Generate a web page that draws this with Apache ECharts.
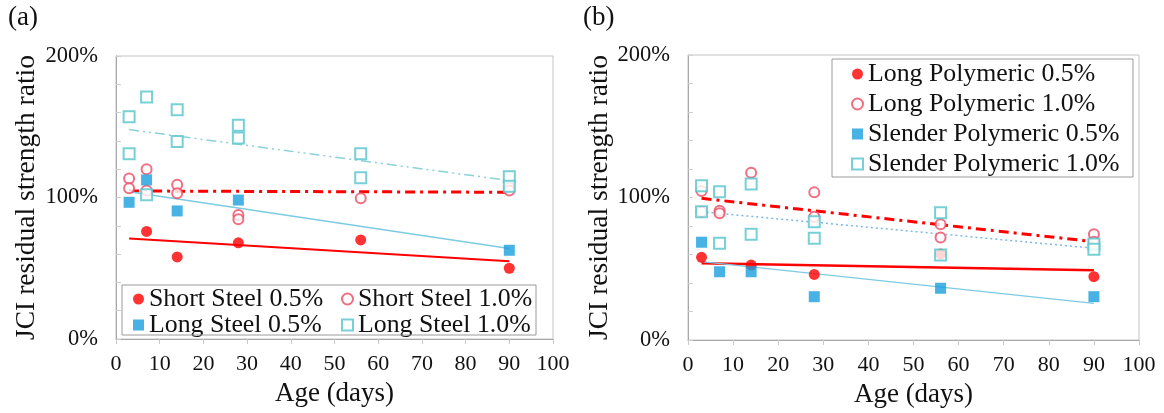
<!DOCTYPE html>
<html>
<head>
<meta charset="utf-8">
<script src="https://cdn.jsdelivr.net/npm/echarts@6/dist/echarts.min.js"></script>
<style>
html,body{margin:0;padding:0;background:#fff;}
#chart{width:1164px;height:413px;}
</style>
</head>
<body>
<div id="chart"></div>
<script>
// ---------- DATA ----------
const xTicks = [0,10,20,30,40,50,60,70,80,90,100];
const yTicks = [0,100,200];
const trendDays = [3, 90];

// Panel (a)
const shortSteel05Days = [7,14,28,56,90];
const shortSteel05 = [76,58,68,70,50];
const shortSteel10Days = [3,3,7,7,14,14,28,28,56,90,90];
const shortSteel10 = [113.5,106.5,120,105,109,103,87.6,84.6,99.4,107,105];
const longSteel05Days = [3,7,14,28,90];
const longSteel05 = [96.6,112.4,90.5,98.2,62.7];
const longSteel10Days = [3,3,7,7,14,14,28,28,56,56,90,90];
const longSteel10 = [157,131,171,102,162,139.5,151,142,131,114,114.7,108];
const trendShortSteel05 = [71,55];
const trendShortSteel10 = [104.6,103.7];
const trendLongSteel05 = [104,64];
const trendLongSteel10 = [148,112];

// Panel (b)
const longPoly05Days = [3,14,28,56,90];
const longPoly05 = [58,52.6,46,60.4,44.4];
const longPoly10Days = [3,3,7,7,14,28,28,56,56,90,90];
const longPoly10 = [104.6,90,90.7,89,117.4,103.6,86.5,81.2,72,74.2,69];
const slenderPoly05Days = [3,7,14,28,56,90];
const slenderPoly05 = [68.6,47.9,47.9,30.4,36.3,30.4];
const slenderPoly10Days = [3,3,7,7,14,14,28,28,56,56,90,90];
const slenderPoly10 = [108.3,90,104,67.9,109.5,74.2,83,71.4,89.3,59.6,67.4,63.6];
const trendLongPoly05 = [53.8,49];
const trendLongPoly10 = [99.4,69];
const trendSlenderPoly05 = [55,25.7];
const trendSlenderPoly10 = [90,64.4];

const namesA = ['Short Steel 0.5%','Short Steel 1.0%','Long Steel 0.5%','Long Steel 1.0%'];
const namesB = ['Long Polymeric 0.5%','Long Polymeric 1.0%','Slender Polymeric 0.5%','Slender Polymeric 1.0%'];

// ---------- STYLE ----------
const FONT = '"Liberation Serif","Times New Roman",serif';
const RED = '#FF0000', PINK = '#EE4A62', BLUE = '#1A9FDF', CYAN = '#55C4CB';

function pts(xs, ys){ return xs.map((x,i)=>[x, ys[i]]); }

function xAxisDef(gi){
  return {
    gridIndex: gi, type:'value', min:0, max:100, interval:10,
    name:'Age (days)', nameLocation:'middle', nameGap:41,
    nameTextStyle:{fontFamily:FONT, fontSize:27, color:'#111'},
    axisLine:{lineStyle:{color:'#A8A8A8'}},
    axisTick:{show:true, length:5, lineStyle:{color:'#C8C8C8'}},
    axisLabel:{fontFamily:FONT, fontSize:22, color:'#111', margin:14,
      formatter:(v)=> xTicks.includes(v) ? String(v) : ''},
    splitLine:{show:false}
  };
}
function yAxisDef(gi, gap){
  return {
    gridIndex: gi, type:'value', min:0, max:200, interval:100,
    name:'JCI residual strength ratio', nameLocation:'middle', nameGap:gap, nameRotate:90,
    nameTextStyle:{fontFamily:FONT, fontSize:27.5, color:'#111'},
    axisLine:{show:true, lineStyle:{color:'#A8A8A8'}},
    axisTick:{show:true, inside:true, length:5, lineStyle:{color:'#D0D0D0'}},
    minorTick:{show:true, splitNumber:5, length:5, lineStyle:{color:'#D0D0D0'}},
    axisLabel:{fontFamily:FONT, fontSize:22.5, color:'#111', margin:18,
      formatter:(v)=> yTicks.includes(v) ? v + '%' : ''},
    splitLine:{show:false}
  };
}
function scatter(name, gi, xs, ys, symbol, color, size){
  const empty = symbol.startsWith('empty');
  return {
    name, type:'scatter', xAxisIndex:gi, yAxisIndex:gi,
    data: pts(xs, ys), symbol, symbolSize:size, z:5,
    itemStyle: empty ? {color:color, borderColor:color, borderWidth:1.5} : {color:color},
    emphasis:{disabled:true}
  };
}
function trend(gi, vals, color, width, type){
  return {
    type:'line', xAxisIndex:gi, yAxisIndex:gi, data: pts(trendDays, vals),
    symbol:'none', z:3, silent:true,
    lineStyle:{color, width, type}
  };
}

const legendText = {fontFamily:FONT, fontSize:25.8, color:'#111', lineHeight:25};

const option = {
  animation:false,
  backgroundColor:'#fff',
  grid:[
    {left:116, top:56, width:437, height:283, show:true, borderColor:'#C4C4C4', borderWidth:1},
    {left:688, top:55, width:451, height:285, show:true, borderColor:'#C4C4C4', borderWidth:1}
  ],
  xAxis:[xAxisDef(0), xAxisDef(1)],
  yAxis:[yAxisDef(0, 75), yAxisDef(1, 71)],
  legend:[
    {left:133, top:286, orient:'vertical', padding:0, itemGap:0, itemWidth:11, itemHeight:11,
      data:[namesA[0], namesA[2]], textStyle:legendText, selectedMode:false},
    {left:341, top:286, orient:'vertical', padding:0, itemGap:0, itemWidth:11, itemHeight:11,
      data:[namesA[1], namesA[3]], textStyle:legendText, selectedMode:false},
    {left:851, top:61, orient:'vertical', padding:0, itemGap:4, itemWidth:11, itemHeight:11,
      data:namesB, textStyle:legendText, selectedMode:false}
  ],
  graphic:[
    {type:'rect', shape:{x:122, y:285, width:414, height:50}, style:{fill:'none', stroke:'#9A9A9A', lineWidth:1}, z:10},
    {type:'rect', shape:{x:832, y:59, width:301, height:118}, style:{fill:'none', stroke:'#9A9A9A', lineWidth:1}, z:10},
    {type:'text', left:8, top:4, style:{text:'(a)', font:'27px ' + FONT, fill:'#111'}},
    {type:'text', left:583, top:4, style:{text:'(b)', font:'27px ' + FONT, fill:'#111'}}
  ],
  series:[
    trend(0, trendShortSteel05, RED, 2, 'solid'),
    trend(0, trendShortSteel10, RED, 3, [10,5,3,5]),
    trend(0, trendLongSteel05, '#7CCBE2', 1.5, 'solid'),
    trend(0, trendLongSteel10, '#8AD2D6', 1.5, [10,4,2,4,2,4]),
    scatter(namesA[0], 0, shortSteel05Days, shortSteel05, 'circle', RED, 11),
    scatter(namesA[1], 0, shortSteel10Days, shortSteel10, 'emptyCircle', PINK, 10),
    scatter(namesA[2], 0, longSteel05Days, longSteel05, 'rect', BLUE, 11),
    scatter(namesA[3], 0, longSteel10Days, longSteel10, 'emptyRect', CYAN, 11),

    trend(1, trendLongPoly05, RED, 2.5, 'solid'),
    trend(1, trendLongPoly10, RED, 3, [10,5,3,5]),
    trend(1, trendSlenderPoly05, '#7CCBE2', 1.5, 'solid'),
    trend(1, trendSlenderPoly10, '#7DB9E3', 1.5, [2,3]),
    scatter(namesB[0], 1, longPoly05Days, longPoly05, 'circle', RED, 11),
    scatter(namesB[1], 1, longPoly10Days, longPoly10, 'emptyCircle', PINK, 10),
    scatter(namesB[2], 1, slenderPoly05Days, slenderPoly05, 'rect', BLUE, 11),
    scatter(namesB[3], 1, slenderPoly10Days, slenderPoly10, 'emptyRect', CYAN, 11)
  ]
};

const chart = echarts.init(document.getElementById('chart'), null, {renderer:'canvas'});
chart.setOption(option);
</script>
</body>
</html>
